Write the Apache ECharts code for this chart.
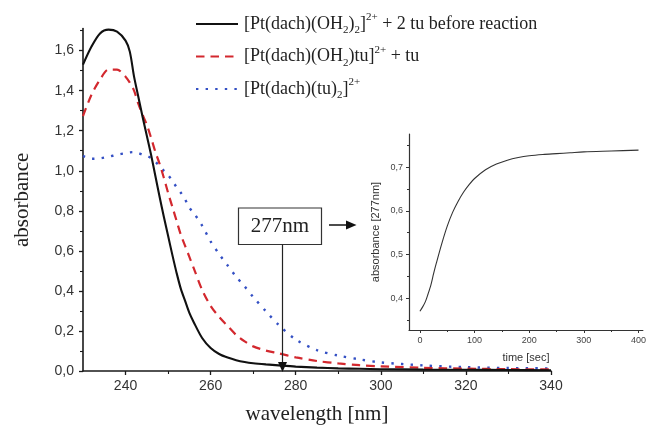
<!DOCTYPE html>
<html>
<head>
<meta charset="utf-8">
<script src="https://cdn.jsdelivr.net/npm/echarts@6/dist/echarts.min.js"></script>
<style>
html,body{margin:0;padding:0;background:#fff;}
#chart{width:649px;height:430px;}
</style>
</head>
<body>
<div id="chart"></div>
<script>
// ---- data ----
var wavelength = [230,232,234,236,238,240,241,242,243,244,245,246,247,248,249,250,251,252,253,254,255,256,258,260,262,264,266,268,270,273,276,280,285,290,295,300,310,320,330,340];
var absBefore  = [1.53,1.62,1.686,1.705,1.695,1.65,1.595,1.47,1.37,1.27,1.175,1.08,0.975,0.87,0.77,0.675,0.58,0.49,0.41,0.35,0.29,0.245,0.165,0.115,0.085,0.067,0.054,0.045,0.039,0.033,0.028,0.022,0.017,0.013,0.011,0.009,0.007,0.006,0.005,0.004];
var absMono    = [1.273,1.38,1.455,1.505,1.505,1.47,1.44,1.40,1.335,1.28,1.23,1.165,1.095,1.035,0.965,0.89,0.82,0.75,0.68,0.625,0.57,0.515,0.405,0.325,0.27,0.225,0.18,0.148,0.123,0.102,0.088,0.068,0.05,0.038,0.029,0.023,0.016,0.012,0.009,0.008];
var absBis     = [1.074,1.06,1.062,1.07,1.08,1.088,1.092,1.093,1.088,1.08,1.075,1.063,1.045,1.024,1.0,0.978,0.95,0.918,0.89,0.857,0.815,0.79,0.726,0.647,0.584,0.527,0.471,0.422,0.37,0.298,0.23,0.157,0.104,0.077,0.058,0.043,0.028,0.019,0.015,0.013];

var seriesNames = ['[Pt(dach)(OH2)2]2+ + 2 tu before reaction', '[Pt(dach)(OH2)tu]2+ + tu', '[Pt(dach)(tu)2]2+'];
var legendRich  = ['[Pt(dach)(OH{sub|2}){sub|2}]{sup|2+} + 2 tu before reaction', '[Pt(dach)(OH{sub|2})tu]{sup|2+} + tu', '[Pt(dach)(tu){sub|2}]{sup|2+}'];

var mainXLabels = [240,260,280,300,320,340];
var mainXMinor  = [250,270,290,310,330];
var mainYLabels = [0,0.2,0.4,0.6,0.8,1.0,1.2,1.4,1.6];
var mainYMinor  = [0.1,0.3,0.5,0.7,0.9,1.1,1.3,1.5,1.7];

var insetTime = [0,5,10,15,20,25,30,40,50,60,70,80,90,100,120,140,160,180,200,225,250,275,300,350,400];
var insetAbs  = [0.37,0.38,0.392,0.41,0.43,0.456,0.48,0.525,0.565,0.597,0.622,0.643,0.66,0.674,0.694,0.707,0.716,0.722,0.726,0.729,0.731,0.733,0.735,0.737,0.739];
var insetXLabels = [0,100,200,300,400];
var insetXMinor  = [50,150,250,350];
var insetYLabels = [0.4,0.5,0.6,0.7];
var insetYMinor  = [0.35,0.45,0.55,0.65,0.75];

function pairs(xs, ys){ return xs.map(function(x,i){ return [x, ys[i]]; }); }
function comma1(v){ return v.toFixed(1).replace('.', ','); }

var SANS = 'Liberation Sans';
var SERIF = 'Liberation Serif';
var AX = '#1a1a1a';

var chart = echarts.init(document.getElementById('chart'), null, {renderer:'canvas'});

var option = {
  animation: false,
  backgroundColor: '#ffffff',
  grid: [
    {left: 83, top: 28.6, width: 468, height: 344.7, containLabel: false},
    {left: 409, top: 134, width: 239.7, height: 196, containLabel: false}
  ],
  legend: {
    orient: 'vertical', left: 190, top: 7,
    itemWidth: 42, itemHeight: 12, itemGap: 8.5,
    selectedMode: false,
    data: seriesNames,
    itemStyle: {opacity: 0},
    formatter: function(name){ return legendRich[seriesNames.indexOf(name)]; },
    textStyle: {
      fontFamily: SERIF, fontSize: 18, color: '#222', lineHeight: 24, padding: [0,0,0,1],
      rich: {
        sub: {fontFamily: SERIF, fontSize: 11, color: '#222', lineHeight: 12, verticalAlign: 'bottom'},
        sup: {fontFamily: SERIF, fontSize: 11, color: '#222', lineHeight: 10, verticalAlign: 'top'}
      }
    }
  },
  xAxis: [
    {
      type: 'value', gridIndex: 0, min: 230, max: 340, position: 'bottom',
      name: 'wavelength [nm]', nameLocation: 'middle', nameGap: 33,
      nameTextStyle: {fontFamily: SERIF, fontSize: 21, color: '#222'},
      axisLine: {show: true, onZero: false, lineStyle: {color: AX, width: 1.6}},
      axisTick: {show: true, length: 4, customValues: mainXLabels, lineStyle: {color: AX, width: 1.3}},
      axisLabel: {customValues: mainXLabels, margin: 8, fontFamily: SANS, fontSize: 14, color: '#333'},
      splitLine: {show: false}
    },
    {
      type: 'value', gridIndex: 0, min: 230, max: 340, position: 'bottom',
      axisLine: {show: false, onZero: false},
      axisTick: {show: true, length: 3, customValues: mainXMinor, lineStyle: {color: AX, width: 1.1}},
      axisLabel: {show: false}, splitLine: {show: false}
    },
    {
      type: 'value', gridIndex: 1, min: -20, max: 408, position: 'bottom',
      name: 'time [sec]', nameLocation: 'middle', nameGap: 22,
      nameTextStyle: {fontFamily: SANS, fontSize: 11, color: '#333'},
      axisLine: {show: true, onZero: false, lineStyle: {color: '#333', width: 1.2}},
      axisTick: {show: true, length: 3, customValues: insetXLabels, lineStyle: {color: '#333', width: 1}},
      axisLabel: {customValues: insetXLabels, margin: 6, fontFamily: SANS, fontSize: 9, color: '#444'},
      splitLine: {show: false}
    },
    {
      type: 'value', gridIndex: 1, min: -20, max: 408, position: 'bottom',
      axisLine: {show: false, onZero: false},
      axisTick: {show: true, length: 2, customValues: insetXMinor, lineStyle: {color: '#333', width: 1}},
      axisLabel: {show: false}, splitLine: {show: false}
    }
  ],
  yAxis: [
    {
      type: 'value', gridIndex: 0, min: 0, max: 1.71, position: 'left',
      name: 'absorbance', nameLocation: 'middle', nameGap: 50,
      nameTextStyle: {fontFamily: SERIF, fontSize: 21, color: '#222'},
      axisLine: {show: true, onZero: false, lineStyle: {color: AX, width: 1.6}},
      axisTick: {show: true, length: 4, customValues: mainYLabels, lineStyle: {color: AX, width: 1.3}},
      axisLabel: {customValues: mainYLabels, margin: 9, fontFamily: SANS, fontSize: 14, color: '#333', formatter: comma1},
      splitLine: {show: false}
    },
    {
      type: 'value', gridIndex: 0, min: 0, max: 1.71, position: 'left',
      axisLine: {show: false, onZero: false},
      axisTick: {show: true, length: 3, customValues: mainYMinor, lineStyle: {color: AX, width: 1.1}},
      axisLabel: {show: false}, splitLine: {show: false}
    },
    {
      type: 'value', gridIndex: 1, min: 0.327, max: 0.776, position: 'left',
      name: 'absorbance [277nm]', nameLocation: 'middle', nameGap: 28,
      nameTextStyle: {fontFamily: SANS, fontSize: 11, color: '#333'},
      axisLine: {show: true, onZero: false, lineStyle: {color: '#333', width: 1.2}},
      axisTick: {show: true, length: 3, customValues: insetYLabels, lineStyle: {color: '#333', width: 1}},
      axisLabel: {customValues: insetYLabels, margin: 6, fontFamily: SANS, fontSize: 9, color: '#444', formatter: comma1},
      splitLine: {show: false}
    },
    {
      type: 'value', gridIndex: 1, min: 0.327, max: 0.776, position: 'left',
      axisLine: {show: false, onZero: false},
      axisTick: {show: true, length: 2, customValues: insetYMinor, lineStyle: {color: '#333', width: 1}},
      axisLabel: {show: false}, splitLine: {show: false}
    }
  ],
  series: [
    {
      name: seriesNames[0], type: 'line', xAxisIndex: 0, yAxisIndex: 0,
      data: pairs(wavelength, absBefore), smooth: 0.3, showSymbol: false, symbol: 'none',
      lineStyle: {color: '#111', width: 2.1, type: 'solid'}, itemStyle: {color: '#111'}, z: 4
    },
    {
      name: seriesNames[1], type: 'line', xAxisIndex: 0, yAxisIndex: 0,
      data: pairs(wavelength, absMono), smooth: 0.3, showSymbol: false, symbol: 'none',
      lineStyle: {color: '#d3282e', width: 2.2, type: [8.5, 6]}, itemStyle: {color: '#d3282e'}, z: 3
    },
    {
      name: seriesNames[2], type: 'line', xAxisIndex: 0, yAxisIndex: 0,
      data: pairs(wavelength, absBis), smooth: 0.3, showSymbol: false, symbol: 'none',
      lineStyle: {color: '#3450c4', width: 2.4, type: [2.4, 7.2]}, itemStyle: {color: '#3450c4'}, z: 2
    },
    {
      name: 'inset', type: 'line', xAxisIndex: 2, yAxisIndex: 2,
      data: pairs(insetTime, insetAbs), smooth: 0.3, showSymbol: false, symbol: 'none',
      lineStyle: {color: '#333', width: 1.1}, itemStyle: {color: '#333'}
    }
  ],
  graphic: [
    {type: 'rect', z: 100, shape: {x: 238.5, y: 208, width: 83, height: 36.5}, style: {fill: '#fff', stroke: '#333', lineWidth: 1.2}},
    {type: 'text', z: 101, x: 280, y: 226.5, style: {text: '277nm', font: '21px "Liberation Serif"', fill: '#222', align: 'center', verticalAlign: 'middle'}},
    {type: 'line', z: 100, shape: {x1: 282.5, y1: 244.5, x2: 282.5, y2: 364}, style: {stroke: '#222', lineWidth: 1.2}},
    {type: 'polygon', z: 100, shape: {points: [[278, 362], [287, 362], [282.5, 372]]}, style: {fill: '#111'}},
    {type: 'line', z: 100, shape: {x1: 329, y1: 225, x2: 348, y2: 225}, style: {stroke: '#111', lineWidth: 1.5}},
    {type: 'polygon', z: 100, shape: {points: [[346, 220.5], [346, 229.5], [356.5, 225]]}, style: {fill: '#111'}}
  ]
};
chart.setOption(option);
</script>
</body>
</html>
